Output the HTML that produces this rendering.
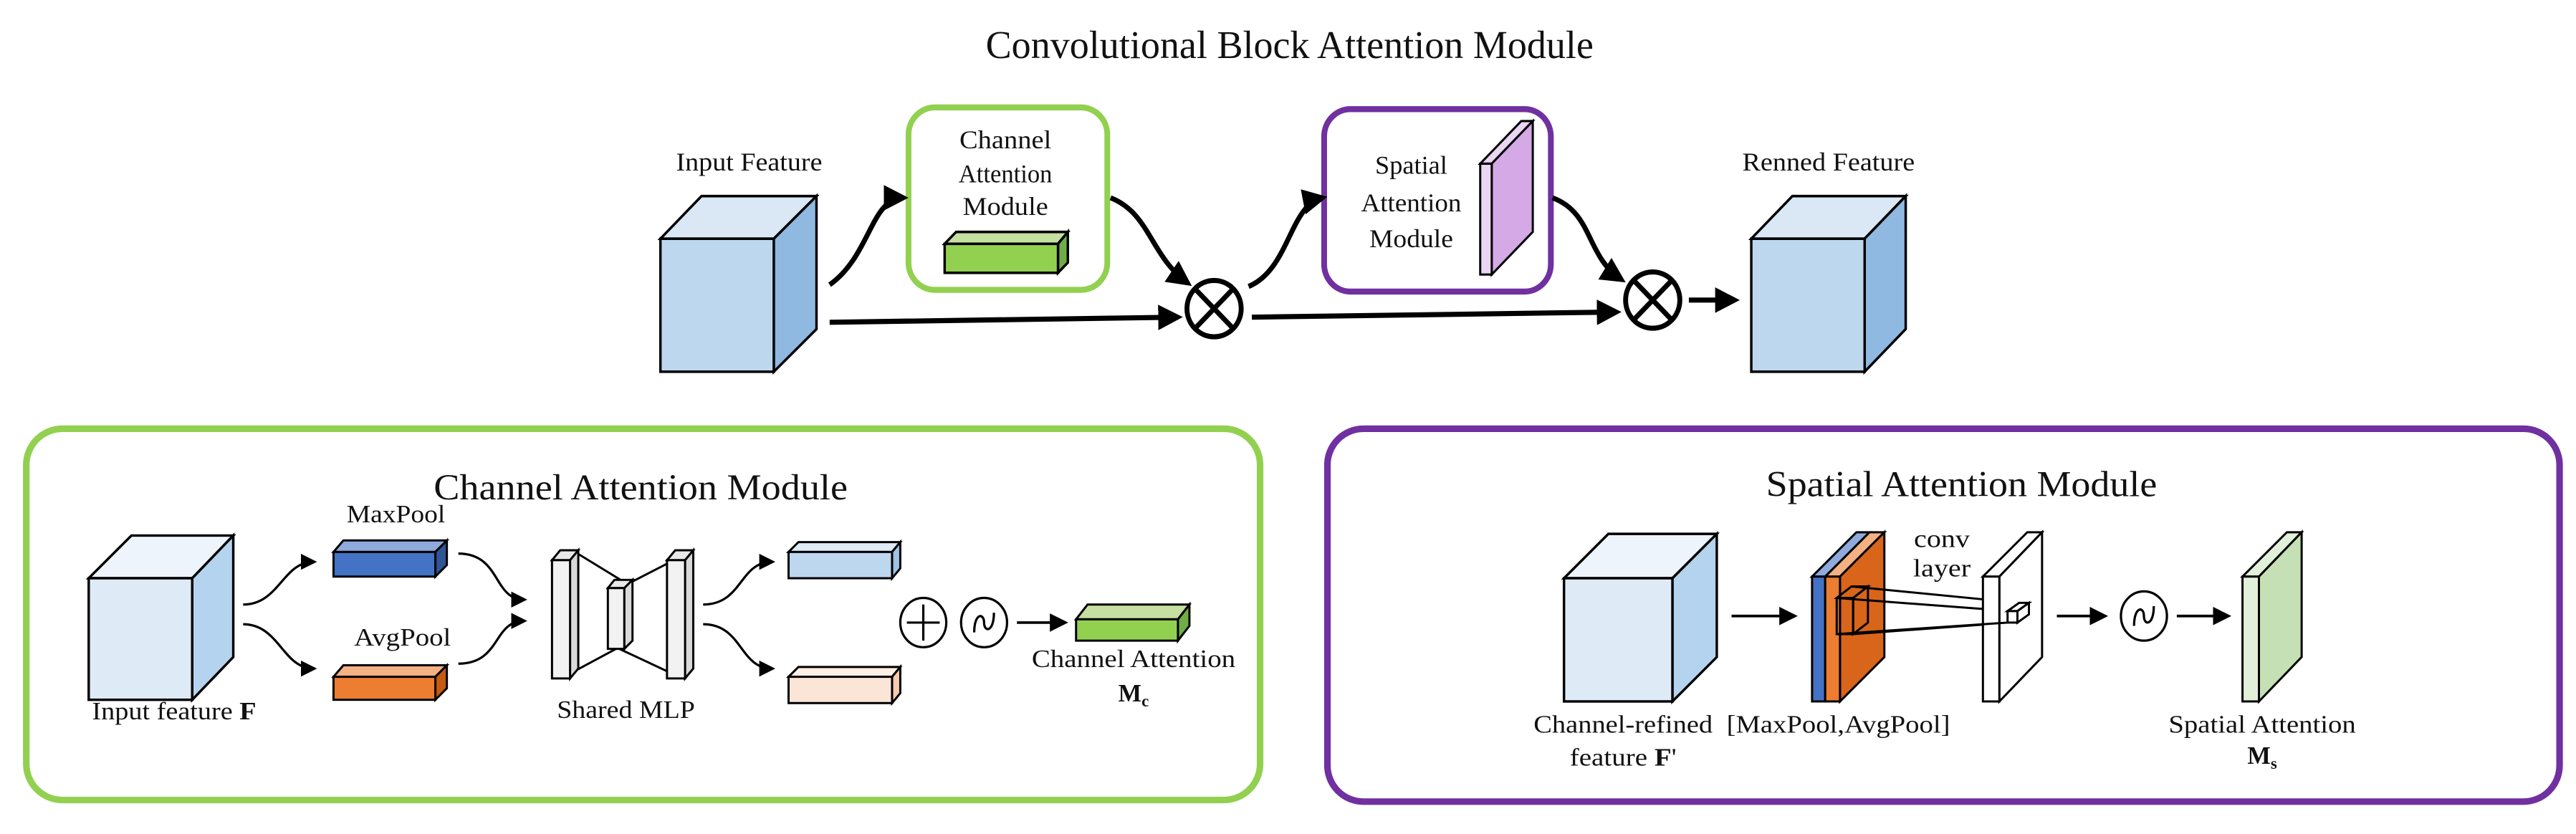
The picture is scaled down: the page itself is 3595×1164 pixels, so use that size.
<!DOCTYPE html>
<html><head><meta charset="utf-8"><style>
html,body{margin:0;padding:0;background:#fff;}
svg{display:block;}
text{font-family:"Liberation Serif",serif;fill:#111;}
</style></head><body>
<svg width="3595" height="1164" viewBox="0 0 1568 507.7" preserveAspectRatio="none" xmlns="http://www.w3.org/2000/svg">
<defs>
<marker id="ah" viewBox="0 0 10 10" refX="8" refY="5" markerWidth="5" markerHeight="5" orient="auto-start-reverse" markerUnits="strokeWidth"><path d="M0,0 L10,5 L0,10 z" fill="#000"/></marker>
<marker id="ahs" viewBox="0 0 10 10" refX="8" refY="5" markerWidth="7" markerHeight="7" orient="auto" markerUnits="strokeWidth"><path d="M0,0 L10,5 L0,10 z" fill="#000"/></marker>
</defs>
<g stroke="#000" stroke-linejoin="miter">
<g transform="scale(1,1.038)">
<!-- Title -->
<text x="785" y="34" font-size="23" text-anchor="middle" textLength="370" lengthAdjust="spacingAndGlyphs" stroke="none">Convolutional Block Attention Module</text>

<!-- Input cube -->
<polygon points="402,140 427,115 497,115 471,140" fill="#dae8f6" stroke-width="1.5"/>
<polygon points="471,140 497,115 497,193 471,218" fill="#8fb9e0" stroke-width="1.5"/>
<rect x="402" y="140" width="69" height="78" fill="#bdd7ee" stroke-width="1.5"/>
<text x="456" y="100" font-size="15" text-anchor="middle" textLength="89" lengthAdjust="spacingAndGlyphs" stroke="none">Input Feature</text>

<!-- Renned cube -->
<polygon points="1066,140 1091,115 1160,115 1135,140" fill="#dae8f6" stroke-width="1.5"/>
<polygon points="1135,140 1160,115 1160,193 1135,218" fill="#8fb9e0" stroke-width="1.5"/>
<rect x="1066" y="140" width="69" height="78" fill="#bdd7ee" stroke-width="1.5"/>
<text x="1113" y="100" font-size="15" text-anchor="middle" textLength="105" lengthAdjust="spacingAndGlyphs" stroke="none">Renned Feature</text>

<!-- Channel box -->
<rect x="553" y="63" width="121" height="107" rx="16" fill="#fff" stroke="#92d050" stroke-width="3.5"/>
<text x="612" y="87" font-size="15" text-anchor="middle" textLength="56" lengthAdjust="spacingAndGlyphs" stroke="none">Channel</text>
<text x="612" y="107" font-size="15" text-anchor="middle" textLength="57" lengthAdjust="spacingAndGlyphs" stroke="none">Attention</text>
<text x="612" y="126" font-size="15" text-anchor="middle" textLength="52" lengthAdjust="spacingAndGlyphs" stroke="none">Module</text>
<polygon points="575,143 582,136 650,136 644,143" fill="#c5e0a0" stroke-width="1.5"/>
<polygon points="644,143 650,136 650,154 644,160" fill="#70ad47" stroke-width="1.5"/>
<rect x="575" y="143" width="69" height="17" fill="#92d050" stroke-width="1.5"/>

<!-- Spatial box -->
<rect x="806" y="64" width="138" height="107" rx="16" fill="#fff" stroke="#7030a0" stroke-width="3.5"/>
<text x="859" y="102" font-size="15" text-anchor="middle" textLength="44" lengthAdjust="spacingAndGlyphs" stroke="none">Spatial</text>
<text x="859" y="124" font-size="15" text-anchor="middle" textLength="61" lengthAdjust="spacingAndGlyphs" stroke="none">Attention</text>
<text x="859" y="145" font-size="15" text-anchor="middle" textLength="51" lengthAdjust="spacingAndGlyphs" stroke="none">Module</text>
<polygon points="901,96 926,71 933,71 908,96" fill="#ead6f2" stroke-width="1.3"/>
<polygon points="908,96 933,71 933,136 908,161" fill="#d4a9e6" stroke-width="1.3"/>
<rect x="901" y="96" width="7" height="65" fill="#ead6f2" stroke-width="1.3"/>

<!-- otimes -->
<g fill="#fff" stroke-width="3">
<circle cx="739" cy="181" r="16.5"/>
<line x1="727.3" y1="169.3" x2="750.7" y2="192.7"/><line x1="750.7" y1="169.3" x2="727.3" y2="192.7"/>
<circle cx="1006" cy="176" r="16.5"/>
<line x1="994.3" y1="164.3" x2="1017.7" y2="187.7"/><line x1="1017.7" y1="164.3" x2="994.3" y2="187.7"/>
</g>
<g fill="none" stroke-width="3">
<line x1="505" y1="189" x2="717" y2="186" marker-end="url(#ah)"/>
<line x1="762" y1="186" x2="984" y2="183" marker-end="url(#ah)"/>
<line x1="1028" y1="176" x2="1056" y2="176" marker-end="url(#ah)"/>
<path d="M505,167 C530,150 530,116 550,116" marker-end="url(#ah)"/>
<path d="M676,116 C700,125 700,150 723,166" marker-end="url(#ah)"/>
<path d="M760,168 C785,158 785,120 805,116" marker-end="url(#ah)"/>
<path d="M945,116 C970,125 965,150 987,164" marker-end="url(#ah)"/>
</g>
</g>

<!-- ========== Channel Attention Module box ========== -->
<rect x="16" y="261" width="751" height="226" rx="22" fill="none" stroke="#92d050" stroke-width="4"/>
<text x="390" y="304" font-size="22" text-anchor="middle" textLength="252" lengthAdjust="spacingAndGlyphs" stroke="none">Channel Attention Module</text>
<polygon points="54,352 80,326 142,326 117,352" fill="#eef4fb" stroke-width="1.5"/>
<polygon points="117,352 142,326 142,400 117,426" fill="#b4d3ee" stroke-width="1.5"/>
<rect x="54" y="352" width="63" height="74" fill="#deebf7" stroke-width="1.5"/>
<text x="106" y="438" font-size="15" text-anchor="middle" textLength="100" lengthAdjust="spacingAndGlyphs" stroke="none">Input feature <tspan font-weight="bold">F</tspan></text>
<text x="241" y="318" font-size="15" text-anchor="middle" textLength="60" lengthAdjust="spacingAndGlyphs" stroke="none">MaxPool</text>
<polygon points="203,336 209,329 272,329 265,336" fill="#8faadc" stroke-width="1.3"/>
<polygon points="265,336 272,329 272,344 265,351" fill="#2f5597" stroke-width="1.3"/>
<rect x="203" y="336" width="62" height="15" fill="#4472c4" stroke-width="1.3"/>
<text x="245" y="393" font-size="15" text-anchor="middle" textLength="59" lengthAdjust="spacingAndGlyphs" stroke="none">AvgPool</text>
<polygon points="203,412 209,405 272,405 265,412" fill="#f4b183" stroke-width="1.3"/>
<polygon points="265,412 272,405 272,419 265,426" fill="#c55a11" stroke-width="1.3"/>
<rect x="203" y="412" width="62" height="14" fill="#ed7d31" stroke-width="1.3"/>
<g fill="none" stroke-width="1.4">
<path d="M148,368 C170,368 172,342 191,342" marker-end="url(#ahs)"/>
<path d="M148,380 C170,380 172,407 191,407" marker-end="url(#ahs)"/>
<path d="M279,337 C305,337 300,365 319,365" marker-end="url(#ahs)"/>
<path d="M279,404 C305,404 300,378 319,378" marker-end="url(#ahs)"/>
<path d="M428,368 C452,368 450,342 470,342" marker-end="url(#ahs)"/>
<path d="M428,380 C452,380 450,407 470,407" marker-end="url(#ahs)"/>
</g>
<g stroke-width="1.3">
<line x1="350" y1="336" x2="381" y2="355"/><line x1="420" y1="336" x2="383" y2="355"/>
<line x1="347" y1="410" x2="375" y2="395"/><line x1="409" y1="410" x2="377" y2="395"/>
<polygon points="336,341 341,335 352,335 347,341" fill="#e8e8e8"/>
<polygon points="347,341 352,335 352,407 347,413" fill="#d9d9d9"/>
<rect x="336" y="341" width="11" height="72" fill="#f2f2f2"/>
<polygon points="370,358 374,353 385,353 380,358" fill="#e8e8e8"/>
<polygon points="380,358 385,353 385,390 380,395" fill="#d9d9d9"/>
<rect x="370" y="358" width="10" height="37" fill="#f2f2f2"/>
<polygon points="406,341 411,335 422,335 417,341" fill="#e8e8e8"/>
<polygon points="417,341 422,335 422,407 417,413" fill="#d9d9d9"/>
<rect x="406" y="341" width="11" height="72" fill="#f2f2f2"/>
</g>
<text x="381" y="437" font-size="15" text-anchor="middle" textLength="84" lengthAdjust="spacingAndGlyphs" stroke="none">Shared MLP</text>
<polygon points="480,336 486,330 548,330 543,336" fill="#deebf7" stroke-width="1.3"/>
<polygon points="543,336 548,330 548,346 543,352" fill="#9dc3e6" stroke-width="1.3"/>
<rect x="480" y="336" width="63" height="16" fill="#bdd7ee" stroke-width="1.3"/>
<polygon points="480,412 486,406 548,406 543,412" fill="#fdf0e6" stroke-width="1.3"/>
<polygon points="543,412 548,406 548,422 543,428" fill="#f8cbad" stroke-width="1.3"/>
<rect x="480" y="412" width="63" height="16" fill="#fbe5d6" stroke-width="1.3"/>
<g fill="none" stroke-width="1.4">
<ellipse cx="562" cy="379" rx="14" ry="15"/>
<line x1="552" y1="379" x2="572" y2="379"/><line x1="562" y1="368" x2="562" y2="390"/>
<ellipse cx="599" cy="379" rx="14" ry="15"/>
<path d="M593,385 C593,373 599,373 599,379 C599,385 605,385 605,373"/>
<line x1="619" y1="379" x2="648" y2="379" stroke-width="1.6" marker-end="url(#ahs)"/>
</g>
<polygon points="655,377 662,368 724,368 717,377" fill="#c5e0a0" stroke-width="1.3"/>
<polygon points="717,377 724,368 724,381 717,390" fill="#70ad47" stroke-width="1.3"/>
<rect x="655" y="377" width="62" height="13" fill="#92d050" stroke-width="1.3"/>
<text x="690" y="406" font-size="15" text-anchor="middle" textLength="124" lengthAdjust="spacingAndGlyphs" stroke="none">Channel Attention</text>
<text x="690" y="427" font-size="15" text-anchor="middle" font-weight="bold" stroke="none">M<tspan font-size="10" dy="3">c</tspan></text>

<!-- ========== Spatial Attention Module box ========== -->
<rect x="808" y="261" width="750" height="227" rx="22" fill="none" stroke="#7030a0" stroke-width="4"/>
<text x="1194" y="302" font-size="22" text-anchor="middle" textLength="238" lengthAdjust="spacingAndGlyphs" stroke="none">Spatial Attention Module</text>
<polygon points="952,352 979,325 1045,325 1018,352" fill="#eef4fb" stroke-width="1.5"/>
<polygon points="1018,352 1045,325 1045,400 1018,427" fill="#b4d3ee" stroke-width="1.5"/>
<rect x="952" y="352" width="66" height="75" fill="#deebf7" stroke-width="1.5"/>
<line x1="1054" y1="375" x2="1092" y2="375" stroke-width="1.6" marker-end="url(#ahs)"/>
<g stroke-width="1.3">
<polygon points="1103,351 1130,324 1138,324 1111,351" fill="#8faadc"/>
<polygon points="1111,351 1138,324 1147,324 1120,351" fill="#f4b183"/>
<polygon points="1120,351 1147,324 1147,400 1120,427" fill="#d9651a"/>
<rect x="1103" y="351" width="8" height="76" fill="#4472c4"/>
<rect x="1111" y="351" width="9" height="76" fill="#ed7d31"/>
<polygon points="1118,364 1127,357 1137,357 1128,364" fill="none"/>
<polygon points="1118,364 1128,364 1128,386 1118,386" fill="none"/>
<polygon points="1128,364 1137,357 1137,379 1128,386" fill="none"/>
<line x1="1127" y1="357" x2="1229" y2="367"/>
<line x1="1118" y1="364" x2="1224" y2="372"/>
<line x1="1128" y1="386" x2="1224" y2="379"/>
<polygon points="1207,351 1234,324 1243,324 1217,351" fill="#fff"/>
<polygon points="1217,351 1243,324 1243,400 1217,427" fill="#fff"/>
<rect x="1207" y="351" width="10" height="76" fill="#fff"/>
<polygon points="1222,372 1229,367 1235,367 1228,372" fill="#fff"/>
<rect x="1222" y="372" width="6" height="7" fill="#fff"/>
<polygon points="1228,372 1235,367 1235,374 1228,379" fill="#fff"/>
<line x1="1118" y1="386" x2="1222" y2="379"/>
</g>
<text x="1182" y="333" font-size="15" text-anchor="middle" textLength="34" lengthAdjust="spacingAndGlyphs" stroke="none">conv</text>
<text x="1182" y="351" font-size="15" text-anchor="middle" textLength="35" lengthAdjust="spacingAndGlyphs" stroke="none">layer</text>
<line x1="1252" y1="375" x2="1281" y2="375" stroke-width="1.6" marker-end="url(#ahs)"/>
<ellipse cx="1305" cy="375" rx="14" ry="15" fill="none" stroke-width="1.4"/>
<path d="M1299,381 C1299,369 1305,369 1305,375 C1305,381 1311,381 1311,369" fill="none" stroke-width="1.4"/>
<line x1="1325" y1="375" x2="1356" y2="375" stroke-width="1.6" marker-end="url(#ahs)"/>
<g stroke-width="1.3">
<polygon points="1365,351 1392,324 1401,324 1375,351" fill="#e2f0d9"/>
<polygon points="1375,351 1401,324 1401,400 1375,427" fill="#c5e0b4"/>
<rect x="1365" y="351" width="10" height="76" fill="#e2f0d9"/>
</g>
<text x="988" y="446" font-size="15" text-anchor="middle" textLength="109" lengthAdjust="spacingAndGlyphs" stroke="none">Channel-refined</text>
<text x="988" y="466" font-size="15" text-anchor="middle" textLength="65" lengthAdjust="spacingAndGlyphs" stroke="none">feature <tspan font-weight="bold">F</tspan>'</text>
<text x="1119" y="446" font-size="15" text-anchor="middle" textLength="136" lengthAdjust="spacingAndGlyphs" stroke="none">[MaxPool,AvgPool]</text>
<text x="1377" y="446" font-size="15" text-anchor="middle" textLength="114" lengthAdjust="spacingAndGlyphs" stroke="none">Spatial Attention</text>
<text x="1377" y="465" font-size="15" text-anchor="middle" font-weight="bold" stroke="none">M<tspan font-size="10" dy="3">s</tspan></text>
</g>
</svg>
</body></html>
